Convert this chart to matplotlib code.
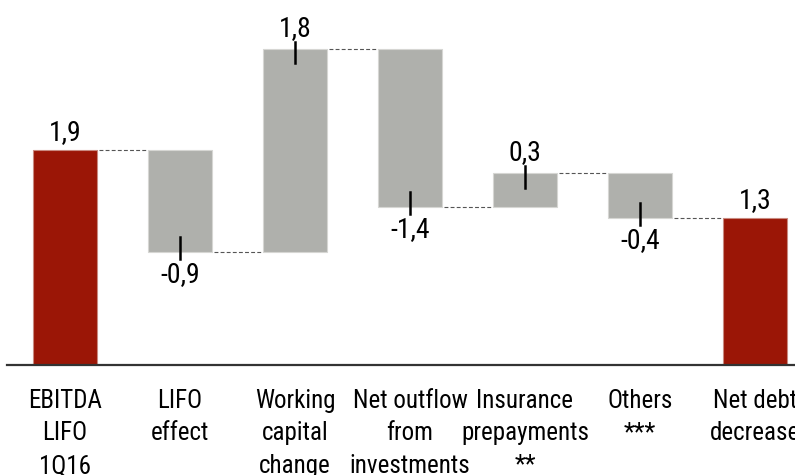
import matplotlib.pyplot as plt
import numpy as np

categories = ["EBITDA\nLIFO\n1Q16", "LIFO\neffect", "Working\ncapital\nchange",
              "Net outflow\nfrom\ninvestments", "Insurance\nprepayments\n**",
              "Others\n***", "Net debt\ndecrease"]
values = [1.9, -0.9, 1.8, -1.4, 0.3, -0.4, 1.3]
is_total = [True, False, False, False, False, False, True]

plt.rcParams['font.family'] = ['Roboto Condensed', 'Liberation Sans', 'DejaVu Sans']

RED = "#9b1606"
GREY = "#afb0ac"

fig = plt.figure(figsize=(7.95, 4.75), dpi=100)
ax = fig.add_axes([7 / 795, 110 / 475, 788 / 795, 365 / 475])

x = np.arange(len(values))
width = 0.556

# running totals for the floating bars
bottoms, tops = [], []
level = 0.0
for v, tot in zip(values, is_total):
    if tot:
        bottoms.append(0.0)
        tops.append(v)
        level = v
    else:
        new = level + v
        bottoms.append(min(level, new))
        tops.append(max(level, new))
        level = new
bottoms = np.array(bottoms)
tops = np.array(tops)

colors = [RED if t else GREY for t in is_total]
edges = ["#c98a80" if t else "#d6d6d3" for t in is_total]
ax.bar(x, tops - bottoms, bottom=bottoms, width=width, color=colors,
       edgecolor=edges, linewidth=0.8, zorder=2)

# dashed connectors between neighbouring bars
level = 0.0
for i, (v, tot) in enumerate(zip(values, is_total)):
    level = v if tot else level + v
    if i < len(values) - 1:
        ax.plot([x[i] + width / 2 + 0.02, x[i + 1] - width / 2 - 0.02], [level, level],
                color="#555555", lw=0.8, ls=(0, (3.5, 2)), zorder=1)

# value labels with short leader ticks
for i, (v, tot) in enumerate(zip(values, is_total)):
    lab = f"{v:.1f}".replace(".", ",")
    if v >= 0:
        yv = tops[i]
        if not tot:
            ax.plot([x[i], x[i]], [yv - 0.13, yv + 0.06], color="black", lw=1.8, zorder=3)
            off = 0.06
        else:
            off = 0.04
        ax.text(x[i], yv + off, lab, ha="center", va="bottom", fontsize=20)
    else:
        yv = bottoms[i]
        ax.plot([x[i], x[i]], [yv + 0.13, yv - 0.06], color="black", lw=1.8, zorder=3)
        ax.text(x[i], yv - 0.08, lab, ha="center", va="top", fontsize=20)

ax.set_xlim(-0.504, 6.348)
ax.set_ylim(0, 3.23)
ax.set_xticks(x)
ax.set_xticklabels(categories, fontsize=18, linespacing=1.45)
ax.tick_params(axis="x", length=0, pad=17)
ax.set_yticks([])
for s in ["top", "right", "left"]:
    ax.spines[s].set_visible(False)
ax.spines["bottom"].set_color("#333333")
ax.spines["bottom"].set_linewidth(1.6)

fig.savefig("out.png", dpi=100)
